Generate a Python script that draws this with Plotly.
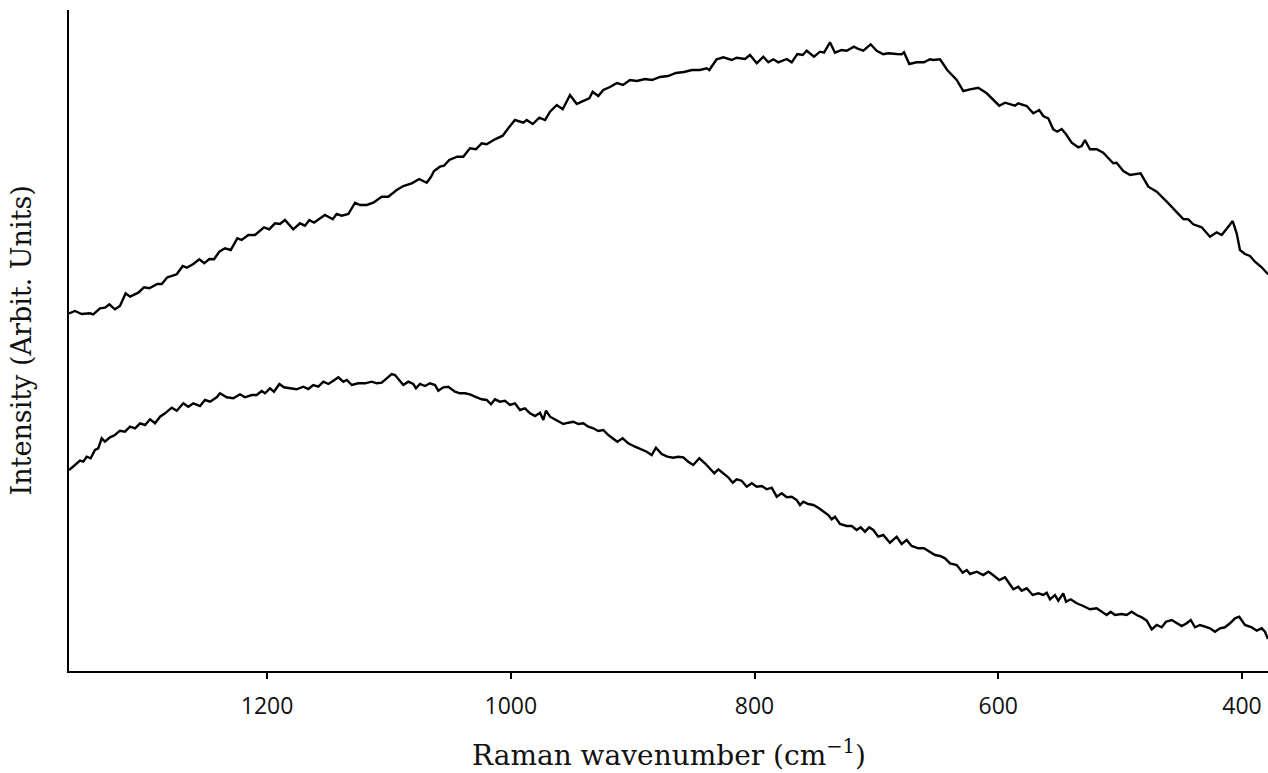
import plotly.graph_objects as go

# Upper spectrum (wavenumber cm^-1, intensity arb. units)
upper_wn = [1362.5, 1357.6, 1352.1, 1345.3, 1342.6, 1337.1, 1333.0, 1329.4, 1324.8, 1320.7,
            1316.0, 1312.4, 1305.6, 1301.0, 1296.6, 1290.0, 1286.4, 1281.8, 1274.1, 1269.2,
            1265.9, 1260.5, 1255.6, 1251.5, 1247.4, 1243.5, 1239.2, 1234.5, 1229.8, 1224.4,
            1220.8, 1215.4, 1209.9, 1202.5, 1198.2, 1193.5, 1189.4, 1185.3, 1178.5, 1173.0,
            1168.9, 1165.3, 1161.5, 1152.5, 1146.1, 1142.9, 1138.7, 1133.3, 1127.8, 1123.7,
            1118.2, 1112.8, 1105.9, 1100.5, 1093.6, 1088.2, 1081.3, 1075.1, 1069.0, 1065.7,
            1063.0, 1058.1, 1054.8, 1050.5, 1043.9, 1039.0, 1033.5, 1028.6, 1023.9, 1019.8,
            1013.0, 1006.6, 1002.1, 996.6, 989.7, 987.0, 982.0, 976.6, 971.9, 967.8,
            962.3, 957.4, 951.4, 945.9, 941.8, 935.6, 932.8, 928.2, 924.1, 918.6,
            912.9, 907.9, 902.2, 896.5, 889.9, 884.1, 877.6, 871.0, 864.5, 857.9,
            851.3, 844.8, 839.3, 837.1, 831.1, 825.6, 818.7, 814.7, 807.8, 803.7,
            798.2, 792.8, 788.7, 784.6, 780.5, 773.6, 769.5, 764.9, 760.5, 757.2,
            751.2, 746.3, 743.0, 738.1, 734.0, 728.5, 724.4, 718.4, 714.9, 710.8,
            704.7, 699.8, 694.4, 690.3, 683.4, 679.3, 677.4, 673.0, 667.0, 661.0,
            656.1, 653.3, 647.8, 641.9, 634.1, 628.7, 623.2, 616.4, 609.5, 604.1,
            599.2, 594.5, 590.4, 586.3, 583.6, 576.7, 571.3, 566.4, 563.1, 559.0,
            554.9, 551.6, 548.0, 544.4, 539.8, 534.4, 531.6, 528.9, 524.8, 519.3,
            513.9, 505.7, 502.9, 497.4, 491.9, 487.8, 483.2, 476.9, 470.0, 461.8,
            450.9, 448.2, 444.1, 440.0, 433.1, 426.3, 420.8, 416.7, 411.3, 407.7,
            404.4, 401.7, 397.6, 393.5, 389.4, 383.9, 378.7]
upper_int = [357.5, 360, 357, 357.7, 356.7, 362.7, 363.3, 366.7, 361.7, 365,
             377.7, 374.3, 378.3, 383.7, 382.7, 387, 387, 393.7, 396.7, 405,
             403.3, 407, 411.7, 407.7, 412, 411.7, 419.3, 422.7, 421, 432.7,
             431, 436, 436, 443.7, 441.7, 447.7, 447, 451, 441.7, 447.7,
             445.3, 451, 448.3, 456, 451.7, 457, 455.3, 457, 468.3, 466,
             466, 468.3, 474.3, 474.3, 481, 485, 487.7, 492, 488.3, 493.7,
             500, 504.3, 505.3, 511, 514.3, 514.3, 522.7, 521.7, 527.7, 526.7,
             531.7, 535.3, 542.7, 551, 548.3, 551, 547, 553.3, 551, 559.3,
             566, 561.7, 576, 567, 569.3, 572.7, 579.3, 575, 581, 584,
             588, 586, 591, 590, 592, 591, 594, 595, 598, 599,
             601, 601, 602.7, 601, 611.7, 613.7, 611, 613.3, 612, 616,
             607.7, 614.3, 608.7, 611.7, 608.7, 612, 608.7, 617, 616, 620.3,
             614.3, 619.3, 618.3, 628.7, 618.3, 621, 620.3, 624.3, 622, 620.3,
             626.7, 620.3, 616.7, 617.7, 617, 616.7, 618.7, 607, 608.7, 608.7,
             611.7, 611, 611.7, 601, 591, 580, 581.7, 583.3, 577.7, 571.7,
             565.3, 568.3, 566.7, 565.3, 567.7, 565, 557.7, 561, 555, 552.7,
             541.7, 539.3, 542, 536.7, 528.3, 523.7, 525, 531, 521.7, 521.7,
             518.3, 507.7, 508.3, 500, 496, 496.7, 497.7, 484.3, 479.3, 469.3,
             456, 452, 451.7, 446.7, 443.7, 434.3, 438.7, 436, 444.3, 450,
             437.7, 421, 417, 415, 409.3, 403.7, 396.7]

# Lower spectrum
lower_wn = [1362.5, 1361.7, 1357.6, 1353.5, 1350.8, 1348.0, 1344.7, 1341.2, 1338.5, 1335.7,
            1333.0, 1328.9, 1324.8, 1320.7, 1316.6, 1312.4, 1308.3, 1304.2, 1300.1, 1296.0,
            1291.9, 1287.8, 1283.7, 1278.2, 1274.1, 1268.7, 1264.6, 1260.5, 1255.0, 1250.9,
            1246.8, 1241.3, 1238.6, 1233.1, 1227.7, 1222.2, 1218.1, 1212.6, 1208.5, 1204.4,
            1201.7, 1197.6, 1194.3, 1189.9, 1186.1, 1181.2, 1175.7, 1170.3, 1166.1, 1162.1,
            1157.9, 1153.8, 1149.7, 1145.6, 1141.5, 1137.4, 1134.6, 1130.5, 1125.1, 1119.6,
            1114.1, 1110.0, 1105.9, 1101.8, 1097.7, 1095.0, 1092.3, 1088.2, 1084.1, 1080.0,
            1077.8, 1074.5, 1070.4, 1066.3, 1062.2, 1059.5, 1055.4, 1051.3, 1045.8, 1041.7,
            1037.6, 1033.5, 1029.4, 1023.9, 1019.8, 1016.2, 1013.0, 1008.9, 1004.8, 1000.7,
            996.6, 992.5, 988.4, 984.2, 980.1, 976.0, 973.3, 971.1, 967.8, 962.3,
            956.9, 952.8, 948.7, 944.6, 940.5, 936.4, 932.3, 928.2, 924.1, 920.0,
            915.9, 912.6, 908.2, 903.6, 898.1, 892.6, 888.5, 884.4, 880.9, 876.2,
            871.6, 866.7, 862.6, 858.5, 854.4, 850.3, 845.3, 840.7, 836.6, 833.0,
            829.7, 825.6, 821.6, 817.9, 814.7, 810.6, 806.4, 802.3, 798.2, 794.1,
            790.0, 785.9, 781.8, 777.7, 773.6, 769.5, 765.4, 762.7, 760.0, 755.9,
            751.8, 747.7, 743.6, 739.5, 736.7, 734.0, 729.9, 724.4, 720.3, 716.2,
            712.9, 709.4, 705.9, 702.6, 698.5, 694.4, 688.9, 683.4, 679.3, 675.2,
            671.1, 665.6, 661.0, 656.6, 651.9, 647.8, 643.7, 639.6, 634.1, 629.2,
            625.9, 623.2, 617.7, 612.3, 608.2, 605.4, 599.2, 594.5, 587.7, 583.6,
            580.8, 576.7, 571.8, 567.2, 563.1, 560.3, 557.6, 553.5, 550.8, 546.7,
            544.4, 540.6, 535.7, 530.3, 524.8, 519.3, 515.2, 511.1, 507.8, 504.3,
            498.8, 494.7, 490.6, 486.5, 482.3, 478.2, 474.1, 470.0, 465.9, 462.4,
            457.7, 453.6, 449.5, 445.4, 442.1, 438.6, 434.5, 430.4, 426.3, 422.2,
            418.1, 414.0, 409.9, 405.8, 402.3, 397.6, 392.1, 388.0, 383.9, 381.2,
            378.7]
lower_int = [201, 201.7, 206, 210.3, 209.3, 214.3, 212.7, 221, 222.7, 232.7,
             229.3, 233.7, 236, 240.3, 239.3, 244.3, 242.7, 247.7, 246, 251.7,
             247.7, 254.3, 257.7, 263.3, 260.3, 267.7, 264.3, 267.7, 265, 271,
             269.3, 273.7, 277.7, 273.7, 272.7, 276.7, 273.7, 276, 276, 280,
             277.7, 282.7, 279.3, 287, 283.7, 282.7, 281.7, 284.3, 282, 286,
             284.3, 289.3, 287, 290.3, 293.7, 289.3, 291, 286, 287.7, 287.7,
             289.3, 287.7, 288.3, 292.7, 297, 296, 291.7, 286, 289.3, 287,
             282.7, 287, 285, 287.7, 286, 280.3, 283.7, 284.3, 279.3, 277.7,
             277.7, 276.7, 274.3, 271.7, 271, 266.7, 271.7, 269.3, 270.3, 266,
             267.7, 261, 262.7, 257.7, 255, 258.3, 251, 260.3, 254.3, 251,
             247, 248.3, 249.3, 247, 247.7, 244.3, 242.7, 240, 241, 236,
             232.7, 229.3, 232.7, 227.7, 224.3, 221, 219.3, 216, 223.3, 217,
             214.3, 213.3, 214.3, 213.7, 209.3, 206, 212.7, 207.7, 202.7, 197.7,
             201.7, 197.7, 193.7, 188.3, 191.7, 190.3, 184.3, 187.7, 184.3, 185,
             181.7, 183.3, 174.3, 177.7, 173.7, 174.3, 171, 166, 169.3, 167,
             166, 163.3, 159.3, 156, 151.7, 154.3, 147, 145, 145, 141,
             143.7, 139.3, 143.7, 141, 134.3, 136, 128.3, 134.3, 127, 131,
             125, 122.7, 122.7, 119.3, 116, 115, 112.7, 107.7, 106, 98.3,
             101, 97, 99.3, 96, 99.3, 97, 91, 93.7, 81.7, 84.3,
             80.3, 82.7, 76, 77.7, 76, 78.3, 71.7, 76, 70.3, 77.7,
             69.3, 71.7, 67.7, 65, 61.7, 62.7, 59.3, 56, 59.3, 56,
             57, 56, 59.3, 56, 53.7, 50.3, 41.7, 46, 43.7, 49.3,
             51, 47.7, 45, 47.7, 51, 43.7, 46, 44.3, 42.7, 39.3,
             42.7, 43.7, 47.7, 52.7, 54.3, 46, 43.7, 40.3, 42.7, 39.3,
             32]

tick_vals = [1200, 1000, 800, 600, 400]
tick_text = ["1200", "1000", "800", "600", "400"]

fig = go.Figure()
fig.add_trace(go.Scatter(x=upper_wn, y=upper_int, mode="lines",
                         line=dict(color="black", width=2.4), showlegend=False, cliponaxis=False))
fig.add_trace(go.Scatter(x=lower_wn, y=lower_int, mode="lines",
                         line=dict(color="black", width=2.4), showlegend=False, cliponaxis=False))

fig.update_layout(
    width=1268, height=773,
    margin=dict(l=69, r=0, t=10, b=102),
    paper_bgcolor="white", plot_bgcolor="white",
    xaxis=dict(range=[1362.5, 378.7], showgrid=False, zeroline=False,
               showline=True, linecolor="black", linewidth=2,
               ticks="outside", ticklen=6, tickwidth=2, tickcolor="black",
               tickvals=tick_vals, ticktext=tick_text, ticklabelstandoff=7,
               tickfont=dict(family="Open Sans", size=23, color="#111111")),
    yaxis=dict(range=[0, 661], showgrid=False, zeroline=False,
               showline=True, linecolor="black", linewidth=2,
               showticklabels=False, ticks=""),
    annotations=[
        dict(text="Raman wavenumber (cm<sup>−1</sup>)", xref="paper", yref="paper",
             x=0.5, y=-0.125, xanchor="center", yanchor="middle", showarrow=False,
             font=dict(family="DejaVu Serif", size=28, color="#111111")),
        dict(text="Intensity (Arbit. Units)", xref="paper", yref="paper",
             x=-0.0392, y=0.5, xanchor="center", yanchor="middle", showarrow=False,
             textangle=-90,
             font=dict(family="DejaVu Serif", size=27, color="#111111")),
    ],
)

fig.write_html("out.html")
